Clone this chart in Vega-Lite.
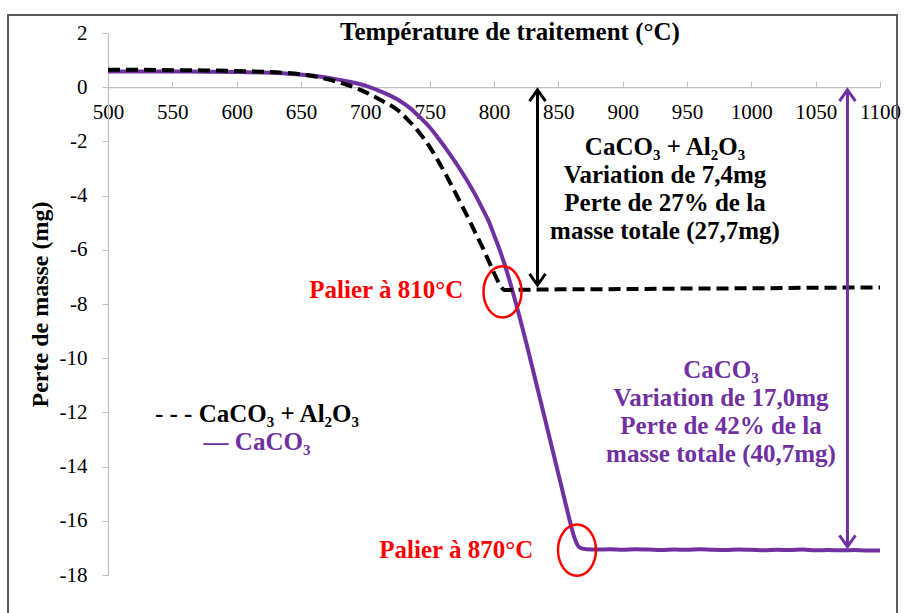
{
  "$schema": "https://vega.github.io/schema/vega-lite/v6.json",
  "width": 772,
  "height": 542,
  "autosize": {"type": "none"},
  "padding": {"left": 108, "top": 33, "right": 25, "bottom": 38},
  "background": "white",
  "config": {"view": {"stroke": null}, "font": "Liberation Serif"},
  "datasets": {
    "curves": [
      {"s": "CaCO3", "T": 500, "v": 0.58}, {"s": "CaCO3", "T": 525, "v": 0.58}, {"s": "CaCO3", "T": 550, "v": 0.58},
      {"s": "CaCO3", "T": 575, "v": 0.57}, {"s": "CaCO3", "T": 600, "v": 0.56}, {"s": "CaCO3", "T": 620, "v": 0.54},
      {"s": "CaCO3", "T": 640, "v": 0.50}, {"s": "CaCO3", "T": 660, "v": 0.42}, {"s": "CaCO3", "T": 680, "v": 0.27},
      {"s": "CaCO3", "T": 700, "v": 0.06}, {"s": "CaCO3", "T": 715, "v": -0.22}, {"s": "CaCO3", "T": 726, "v": -0.48},
      {"s": "CaCO3", "T": 735, "v": -0.78}, {"s": "CaCO3", "T": 742, "v": -1.09}, {"s": "CaCO3", "T": 750, "v": -1.48},
      {"s": "CaCO3", "T": 757, "v": -1.90}, {"s": "CaCO3", "T": 765, "v": -2.42}, {"s": "CaCO3", "T": 773, "v": -2.98},
      {"s": "CaCO3", "T": 780, "v": -3.52}, {"s": "CaCO3", "T": 786, "v": -4.02}, {"s": "CaCO3", "T": 791, "v": -4.48},
      {"s": "CaCO3", "T": 796, "v": -4.96}, {"s": "CaCO3", "T": 800, "v": -5.45}, {"s": "CaCO3", "T": 804, "v": -5.95},
      {"s": "CaCO3", "T": 810, "v": -6.80}, {"s": "CaCO3", "T": 815, "v": -7.62}, {"s": "CaCO3", "T": 820, "v": -8.50},
      {"s": "CaCO3", "T": 825, "v": -9.42}, {"s": "CaCO3", "T": 830, "v": -10.38}, {"s": "CaCO3", "T": 840, "v": -12.32},
      {"s": "CaCO3", "T": 850, "v": -14.26}, {"s": "CaCO3", "T": 858, "v": -15.82}, {"s": "CaCO3", "T": 862, "v": -16.55},
      {"s": "CaCO3", "T": 865, "v": -16.90}, {"s": "CaCO3", "T": 868, "v": -17.02}, {"s": "CaCO3", "T": 872, "v": -17.05},
      {"s": "CaCO3", "T": 880, "v": -17.06}, {"s": "CaCO3", "T": 890, "v": -17.05}, {"s": "CaCO3", "T": 900, "v": -17.07},
      {"s": "CaCO3", "T": 910, "v": -17.05}, {"s": "CaCO3", "T": 920, "v": -17.06}, {"s": "CaCO3", "T": 930, "v": -17.08},
      {"s": "CaCO3", "T": 940, "v": -17.06}, {"s": "CaCO3", "T": 950, "v": -17.07}, {"s": "CaCO3", "T": 960, "v": -17.05},
      {"s": "CaCO3", "T": 970, "v": -17.07}, {"s": "CaCO3", "T": 980, "v": -17.08}, {"s": "CaCO3", "T": 990, "v": -17.06},
      {"s": "CaCO3", "T": 1000, "v": -17.07}, {"s": "CaCO3", "T": 1010, "v": -17.09}, {"s": "CaCO3", "T": 1020, "v": -17.07},
      {"s": "CaCO3", "T": 1030, "v": -17.08}, {"s": "CaCO3", "T": 1040, "v": -17.06}, {"s": "CaCO3", "T": 1050, "v": -17.09},
      {"s": "CaCO3", "T": 1060, "v": -17.08}, {"s": "CaCO3", "T": 1070, "v": -17.09}, {"s": "CaCO3", "T": 1080, "v": -17.08},
      {"s": "CaCO3", "T": 1090, "v": -17.10}, {"s": "CaCO3", "T": 1100, "v": -17.10},
      {"s": "CaCO3 + Al2O3", "T": 500, "v": 0.64}, {"s": "CaCO3 + Al2O3", "T": 525, "v": 0.64}, {"s": "CaCO3 + Al2O3", "T": 550, "v": 0.63},
      {"s": "CaCO3 + Al2O3", "T": 575, "v": 0.62}, {"s": "CaCO3 + Al2O3", "T": 600, "v": 0.60}, {"s": "CaCO3 + Al2O3", "T": 620, "v": 0.57},
      {"s": "CaCO3 + Al2O3", "T": 640, "v": 0.52}, {"s": "CaCO3 + Al2O3", "T": 655, "v": 0.44}, {"s": "CaCO3 + Al2O3", "T": 670, "v": 0.30},
      {"s": "CaCO3 + Al2O3", "T": 685, "v": 0.10}, {"s": "CaCO3 + Al2O3", "T": 700, "v": -0.18}, {"s": "CaCO3 + Al2O3", "T": 713, "v": -0.50},
      {"s": "CaCO3 + Al2O3", "T": 726, "v": -0.88}, {"s": "CaCO3 + Al2O3", "T": 734, "v": -1.25}, {"s": "CaCO3 + Al2O3", "T": 742, "v": -1.68},
      {"s": "CaCO3 + Al2O3", "T": 750, "v": -2.20}, {"s": "CaCO3 + Al2O3", "T": 757, "v": -2.75}, {"s": "CaCO3 + Al2O3", "T": 764, "v": -3.35},
      {"s": "CaCO3 + Al2O3", "T": 770, "v": -3.90}, {"s": "CaCO3 + Al2O3", "T": 776, "v": -4.45}, {"s": "CaCO3 + Al2O3", "T": 781, "v": -4.93},
      {"s": "CaCO3 + Al2O3", "T": 786, "v": -5.42}, {"s": "CaCO3 + Al2O3", "T": 791, "v": -5.90}, {"s": "CaCO3 + Al2O3", "T": 795, "v": -6.32},
      {"s": "CaCO3 + Al2O3", "T": 799, "v": -6.75}, {"s": "CaCO3 + Al2O3", "T": 803, "v": -7.15}, {"s": "CaCO3 + Al2O3", "T": 806, "v": -7.40},
      {"s": "CaCO3 + Al2O3", "T": 808, "v": -7.48}, {"s": "CaCO3 + Al2O3", "T": 815, "v": -7.48}, {"s": "CaCO3 + Al2O3", "T": 830, "v": -7.47},
      {"s": "CaCO3 + Al2O3", "T": 850, "v": -7.46}, {"s": "CaCO3 + Al2O3", "T": 900, "v": -7.45}, {"s": "CaCO3 + Al2O3", "T": 950, "v": -7.43},
      {"s": "CaCO3 + Al2O3", "T": 1000, "v": -7.42}, {"s": "CaCO3 + Al2O3", "T": 1050, "v": -7.40}, {"s": "CaCO3 + Al2O3", "T": 1100, "v": -7.39}
    ],
    "arrows": [
      {"s": "CaCO3 + Al2O3", "T": 833.8, "v": -0.1, "v2": -7.3},
      {"s": "CaCO3", "T": 1074.7, "v": -0.1, "v2": -16.95}
    ],
    "heads": [
      {"s": "CaCO3 + Al2O3", "dir": "up", "T": 833.8, "v": -0.1},
      {"s": "CaCO3 + Al2O3", "dir": "down", "T": 833.8, "v": -7.3},
      {"s": "CaCO3", "dir": "up", "T": 1074.7, "v": -0.1},
      {"s": "CaCO3", "dir": "down", "T": 1074.7, "v": -16.95}
    ],
    "rings": [
      {"T": 806.6, "v": -7.55},
      {"T": 864.5, "v": -17.08}
    ],
    "labels": [
      {"g": "black", "T": 812.4, "v": 1.74, "text": "Température de traitement (°C)"},
      {"g": "black", "T": 932.9, "v": -2.5, "text": ["CaCO₃ + Al₂O₃", "Variation de 7,4mg", "Perte de 27% de la", "masse totale (27,7mg)"]},
      {"g": "black", "T": 615.8, "v": -12.34, "text": "- - - CaCO₃ + Al₂O₃"},
      {"g": "purple", "T": 976.4, "v": -10.74, "text": ["CaCO₃", "Variation de 17,0mg", "Perte de 42% de la", "masse totale (40,7mg)"]},
      {"g": "purple", "T": 615.8, "v": -13.39, "text": "— CaCO₃"},
      {"g": "red", "T": 776.1, "v": -7.79, "text": "Palier à 810°C"},
      {"g": "red", "T": 830.5, "v": -17.38, "text": "Palier à 870°C"}
    ]
  },
  "layer": [
    {
      "data": {"values": [{}]},
      "mark": {"type": "rect", "fillOpacity": 0, "stroke": "#595959", "strokeWidth": 2},
      "encoding": {
        "x": {"datum": 422.3, "type": "quantitative"},
        "x2": {"datum": 1113.2},
        "y": {"datum": 2.664, "type": "quantitative"},
        "y2": {"datum": -19.9}
      }
    },
    {
      "data": {"name": "curves"},
      "transform": [{"filter": "datum.s === 'CaCO3'"}],
      "mark": {"type": "line", "interpolate": "monotone", "strokeWidth": 4},
      "encoding": {
        "x": {"field": "T", "type": "quantitative",
          "scale": {"domain": [500, 1100], "nice": false, "zero": false},
          "axis": {"orient": "bottom", "offset": -487.8, "title": null, "grid": false,
            "values": [500, 550, 600, 650, 700, 750, 800, 850, 900, 950, 1000, 1050, 1100],
            "labelExpr": "'' + datum.value",
            "labelFlush": false, "labelOverlap": false, "labelFont": "Liberation Serif", "labelFontSize": 21,
            "labelColor": "#000000", "domainColor": "#bfbfbf", "tickColor": "#bfbfbf", "domainWidth": 1.2,
            "tickSize": -6, "labelPadding": 20}},
        "y": {"field": "v", "type": "quantitative",
          "scale": {"domain": [-18, 2], "nice": false, "zero": false},
          "axis": {"grid": false, "values": [-18, -16, -14, -12, -10, -8, -6, -4, -2, 0, 2],
            "labelExpr": "'' + datum.value", "labelFlush": false, "labelOverlap": false,
            "labelFont": "Liberation Serif", "labelFontSize": 21, "labelColor": "#000000",
            "domainColor": "#bfbfbf", "tickColor": "#bfbfbf", "domainWidth": 1.2, "tickSize": 6, "labelPadding": 15,
            "title": "Perte de masse (mg)", "titleFont": "Liberation Serif", "titleFontSize": 24,
            "titleFontWeight": "bold", "titleColor": "#000000", "titleX": -61, "titleY": 271,
            "titleBaseline": "alphabetic", "titleAlign": "center", "titleAngle": 270}},
        "color": {"field": "s", "type": "nominal",
          "scale": {"domain": ["CaCO3 + Al2O3", "CaCO3"], "range": ["#000000", "#7030A0"]}, "legend": null}
      }
    },
    {
      "data": {"name": "curves"},
      "transform": [{"filter": "datum.s === 'CaCO3 + Al2O3'"}],
      "mark": {"type": "line", "interpolate": "monotone", "strokeWidth": 4, "strokeDash": [12, 6]},
      "encoding": {
        "x": {"field": "T", "type": "quantitative"},
        "y": {"field": "v", "type": "quantitative"},
        "color": {"field": "s", "type": "nominal", "legend": null}
      }
    },
    {
      "data": {"name": "arrows"},
      "mark": {"type": "rule", "strokeWidth": 3},
      "encoding": {
        "x": {"field": "T", "type": "quantitative"},
        "y": {"field": "v", "type": "quantitative"},
        "y2": {"field": "v2"},
        "color": {"field": "s", "type": "nominal", "legend": null}
      }
    },
    {
      "data": {"name": "heads"},
      "transform": [{"filter": "datum.dir === 'up'"}],
      "mark": {"type": "point", "shape": "M -1 1.4 L 0 0 L 1 1.4", "filled": false, "size": 256, "strokeWidth": 3, "opacity": 1},
      "encoding": {
        "x": {"field": "T", "type": "quantitative"},
        "y": {"field": "v", "type": "quantitative"},
        "color": {"field": "s", "type": "nominal", "legend": null}
      }
    },
    {
      "data": {"name": "heads"},
      "transform": [{"filter": "datum.dir === 'down'"}],
      "mark": {"type": "point", "shape": "M -1 -1.4 L 0 0 L 1 -1.4", "filled": false, "size": 256, "strokeWidth": 3, "opacity": 1},
      "encoding": {
        "x": {"field": "T", "type": "quantitative"},
        "y": {"field": "v", "type": "quantitative"},
        "color": {"field": "s", "type": "nominal", "legend": null}
      }
    },
    {
      "data": {"name": "rings"},
      "mark": {"type": "point", "shape": "M 0 -1.35 A 1 1.35 0 1 1 0 1.35 A 1 1.35 0 1 1 0 -1.35 Z", "filled": false, "size": 1444, "strokeWidth": 2.5, "color": "#ff0000", "opacity": 1},
      "encoding": {
        "x": {"field": "T", "type": "quantitative"},
        "y": {"field": "v", "type": "quantitative"}
      }
    },
    {
      "data": {"name": "labels"},
      "transform": [{"filter": "datum.g === 'black'"}],
      "mark": {"type": "text", "font": "Liberation Serif", "fontWeight": "bold", "fontSize": 25, "color": "#000000", "align": "center", "baseline": "alphabetic", "lineHeight": 28},
      "encoding": {
        "x": {"field": "T", "type": "quantitative"},
        "y": {"field": "v", "type": "quantitative"},
        "text": {"field": "text"}
      }
    },
    {
      "data": {"name": "labels"},
      "transform": [{"filter": "datum.g === 'purple'"}],
      "mark": {"type": "text", "font": "Liberation Serif", "fontWeight": "bold", "fontSize": 25, "color": "#7030A0", "align": "center", "baseline": "alphabetic", "lineHeight": 28},
      "encoding": {
        "x": {"field": "T", "type": "quantitative"},
        "y": {"field": "v", "type": "quantitative"},
        "text": {"field": "text"}
      }
    },
    {
      "data": {"name": "labels"},
      "transform": [{"filter": "datum.g === 'red'"}],
      "mark": {"type": "text", "font": "Liberation Serif", "fontWeight": "bold", "fontSize": 25, "color": "#ff0000", "align": "right", "baseline": "alphabetic"},
      "encoding": {
        "x": {"field": "T", "type": "quantitative"},
        "y": {"field": "v", "type": "quantitative"},
        "text": {"field": "text"}
      }
    }
  ]
}
